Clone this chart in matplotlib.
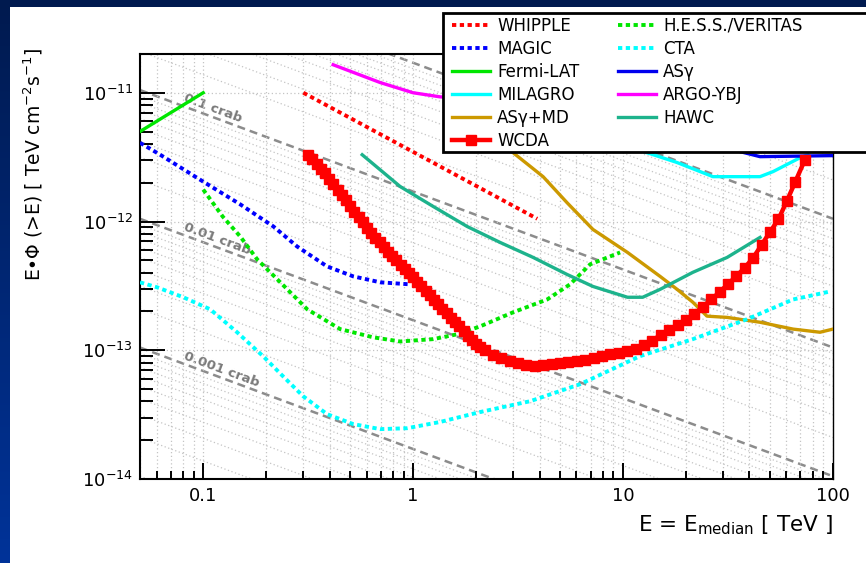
import numpy as np
import matplotlib
matplotlib.use('Agg')
import matplotlib.pyplot as plt
from matplotlib.patches import Rectangle
from matplotlib.colors import LinearSegmentedColormap
from matplotlib.ticker import NullFormatter, FixedLocator

plt.rcParams['font.family'] = ['DejaVu Sans']
plt.rcParams['mathtext.fontset'] = 'dejavusans'

# ---- data (E in TeV, E*F(>E) in TeV cm^-2 s^-1) ----
crab_E = [0.05, 100.0]
crab_1 = [1.05e-10, 1.05e-12]          # 1 crab reference at the two ends
crab_fracs = [1.0, 0.1, 0.01, 0.001]
crab_labels = {0.1: '0.1 crab', 0.01: '0.01 crab', 0.001: '0.001 crab'}

whipple_E = [0.30, 3.9]
whipple_F = [1.0e-11, 1.05e-12]

magic_E = [0.05, 0.0624, 0.1, 0.15, 0.216, 0.28, 0.389, 0.518, 0.697, 0.968]
magic_F = [4.09e-12, 3.30e-12, 2.04e-12, 1.36e-12, 9.15e-13, 6.40e-13, 4.48e-13,
           3.75e-13, 3.37e-13, 3.25e-13]

fermi_E = [0.05, 0.1]
fermi_F = [5.0e-12, 1.0e-11]

milagro_E = [10.0, 13.4, 18.1, 26.8, 44.9, 51.8, 69.7, 76.0]
milagro_F = [3.9e-12, 3.37e-12, 2.87e-12, 2.23e-12, 2.23e-12, 2.44e-12, 3.13e-12, 3.30e-12]

asgmd_E = [2.6, 2.99, 4.16, 5.41, 7.19, 10.5, 15.0, 18.1, 21.5, 25.1, 31.3, 44.9, 64.5, 86.7, 100.0]
asgmd_F = [4.0e-12, 3.43e-12, 2.23e-12, 1.40e-12, 8.67e-13, 5.75e-13, 3.75e-13, 2.97e-13,
           2.36e-13, 1.84e-13, 1.80e-13, 1.65e-13, 1.46e-13, 1.38e-13, 1.46e-13]

hess_E = [0.1, 0.124, 0.15, 0.181, 0.233, 0.313, 0.449, 0.645, 0.867, 1.245, 1.62, 2.08,
          2.99, 4.35, 5.59, 6.97, 9.68]
hess_F = [1.77e-12, 1.09e-12, 7.66e-13, 5.07e-13, 3.37e-13, 2.08e-13, 1.46e-13, 1.26e-13,
          1.17e-13, 1.22e-13, 1.33e-13, 1.53e-13, 1.97e-13, 2.48e-13, 3.25e-13, 4.65e-13, 5.75e-13]

cta_E = [0.05, 0.0604, 0.0804, 0.108, 0.145, 0.193, 0.24, 0.299, 0.389, 0.518, 0.697, 0.936,
         1.34, 2.08, 3.61, 6.24, 12.0, 21.5, 38.9, 64.5, 96.8]
cta_F = [3.37e-13, 3.08e-13, 2.58e-13, 2.08e-13, 1.38e-13, 8.98e-14, 6.28e-14, 4.40e-14,
         3.19e-14, 2.67e-14, 2.44e-14, 2.48e-14, 2.77e-14, 3.31e-14, 4.02e-14, 5.45e-14,
         8.98e-14, 1.22e-13, 1.74e-13, 2.48e-13, 2.86e-13]

asg_E = [30.0, 36.1, 44.9, 100.0]
asg_F = [4.0e-12, 3.49e-12, 3.19e-12, 3.25e-12]

argo_E = [0.416, 0.697, 1.0, 1.34, 1.6]
argo_F = [1.65e-11, 1.20e-11, 1.0e-11, 9.3e-12, 9.1e-12]

hawc_E = [0.572, 0.867, 1.245, 1.81, 2.60, 3.73, 5.41, 7.19, 10.5, 12.4, 15.0, 21.5, 31.3, 44.9]
hawc_F = [3.30e-12, 1.87e-12, 1.31e-12, 9.14e-13, 6.87e-13, 5.26e-13, 3.88e-13, 3.13e-13,
          2.58e-13, 2.58e-13, 2.97e-13, 4.03e-13, 5.26e-13, 7.52e-13]

wcda_E = [0.316, 0.331, 0.347, 0.363, 0.380, 0.398, 0.417, 0.437, 0.457, 0.479, 0.501, 0.525,
          0.550, 0.576, 0.603, 0.631, 0.661, 0.692, 0.724, 0.759, 0.794, 0.832, 0.871, 0.912,
          0.955, 1.000, 1.047, 1.096, 1.148, 1.202, 1.259, 1.318, 1.380, 1.445, 1.514, 1.585,
          1.660, 1.738, 1.820, 1.905, 1.995, 2.089, 2.188, 2.399, 2.630,
          2.884, 3.162, 3.467, 3.802, 4.169, 4.571, 5.012, 5.495, 6.026, 6.607, 7.244, 7.943,
          8.710, 9.550, 10.47, 11.48, 12.59, 13.80, 15.14, 16.60, 18.20, 19.95, 21.88, 23.99,
          26.30, 28.84, 31.62, 34.67, 38.02, 41.69, 45.71, 50.12, 54.95, 60.26, 66.07, 73.6]
wcda_F = [3.30e-12, 3.05e-12, 2.81e-12, 2.58e-12, 2.36e-12, 2.15e-12, 1.95e-12, 1.77e-12,
          1.61e-12, 1.46e-12, 1.32e-12, 1.19e-12, 1.08e-12, 9.84e-13, 8.97e-13, 8.19e-13,
          7.48e-13, 6.87e-13, 6.31e-13, 5.84e-13, 5.40e-13, 4.99e-13, 4.61e-13, 4.28e-13,
          3.97e-13, 3.68e-13, 3.41e-13, 3.15e-13, 2.91e-13, 2.68e-13, 2.47e-13, 2.28e-13,
          2.10e-13, 1.94e-13, 1.79e-13, 1.65e-13, 1.53e-13, 1.40e-13, 1.28e-13, 1.20e-13,
          1.12e-13, 1.06e-13, 9.98e-14, 9.25e-14, 8.73e-14,
          8.24e-14, 7.98e-14, 7.74e-14, 7.52e-14, 7.64e-14, 7.78e-14, 7.93e-14, 8.09e-14,
          8.26e-14, 8.42e-14, 8.64e-14, 8.95e-14, 9.27e-14, 9.59e-14, 9.90e-14, 1.03e-13,
          1.09e-13, 1.19e-13, 1.32e-13, 1.44e-13, 1.57e-13, 1.72e-13, 1.92e-13, 2.17e-13,
          2.48e-13, 2.83e-13, 3.27e-13, 3.77e-13, 4.38e-13, 5.24e-13, 6.59e-13, 8.30e-13,
          1.04e-12, 1.44e-12, 2.03e-12, 3.03e-12]

xtick_vals = [0.1, 1, 10, 100]
xtick_labels = ['0.1', '1', '10', '100']
ytick_vals = [1e-14, 1e-13, 1e-12, 1e-11]
ytick_labels = [r'$10^{-14}$', r'$10^{-13}$', r'$10^{-12}$', r'$10^{-11}$']

# ---- figure ----
fig = plt.figure(figsize=(8.66, 5.63), dpi=100, facecolor='white')

# slide background: blue strips at left and top
bg = fig.add_axes([0, 0, 10 / 866, 1], zorder=-5)
grad = np.linspace(0, 1, 256).reshape(-1, 1)
bg.imshow(grad, aspect='auto', origin='lower', extent=[0, 1, 0, 1],
          cmap=LinearSegmentedColormap.from_list('slide', ['#003399', '#001a4f']))
bg.axis('off')
fig.patches.append(Rectangle((0, 1 - 7 / 563), 1, 7 / 563, transform=fig.transFigure,
                             facecolor='#001a4f', edgecolor='none', zorder=-4))

ax = fig.add_axes([140 / 866, 1 - 479 / 563, 693 / 866, 425 / 563])
ax.set_xscale('log')
ax.set_yscale('log')
ax.set_xlim(0.05, 100)
ax.set_ylim(1e-14, 2e-11)

# grid
ax.grid(which='both', axis='x', ls=(0, (1, 2)), color='#c4c4c4', lw=0.9, zorder=0)
ax.grid(which='major', axis='y', ls=(0, (1, 2)), color='#c4c4c4', lw=0.9, zorder=0)

# crab reference lines
slope = np.log10(crab_1[1] / crab_1[0]) / np.log10(crab_E[1] / crab_E[0])
for n in range(-4, 2):
    for k in range(1, 10):
        f = k * 10.0 ** n
        if any(np.isclose(f, c) for c in crab_fracs):
            continue
        ax.plot(crab_E, [f * v for v in crab_1], ls=(0, (1, 2)), color='#c4c4c4', lw=0.9, zorder=0.5)
for f in crab_fracs:
    ax.plot(crab_E, [f * v for v in crab_1], ls=(0, (3.2, 2)), color='#8c8c8c', lw=1.8, zorder=1)

p0 = ax.transData.transform((crab_E[0], crab_1[0]))
p1 = ax.transData.transform((crab_E[1], crab_1[1]))
angle = np.degrees(np.arctan2(p1[1] - p0[1], p1[0] - p0[0]))
for f, lab in crab_labels.items():
    xl = 0.08
    yl = f * crab_1[0] * (xl / crab_E[0]) ** slope * 1.09
    ax.text(xl, yl, lab, rotation=angle, rotation_mode='anchor', ha='left', va='baseline',
            fontsize=9.5, fontweight='bold', color='#7a7a7a', zorder=1.5)

DOT = (0, (1.1, 0.9))
series = [
    (whipple_E, whipple_F, 'WHIPPLE', '#ff0000', DOT),
    (magic_E, magic_F, 'MAGIC', '#0000ff', DOT),
    (fermi_E, fermi_F, 'Fermi-LAT', '#00e600', '-'),
    (milagro_E, milagro_F, 'MILAGRO', '#00ffff', '-'),
    (asgmd_E, asgmd_F, 'AS\u03b3+MD', '#cc9900', '-'),
    (hess_E, hess_F, 'H.E.S.S./VERITAS', '#00e600', DOT),
    (cta_E, cta_F, 'CTA', '#00ffff', DOT),
    (asg_E, asg_F, 'AS\u03b3', '#0000ee', '-'),
    (argo_E, argo_F, 'ARGO-YBJ', '#ff00ff', '-'),
    (hawc_E, hawc_F, 'HAWC', '#1db38c', '-'),
]
handles = {}
for E, F, name, col, ls in series:
    lw = 2.8 if ls == DOT else 2.4
    h, = ax.plot(E, F, ls=ls, color=col, lw=lw, zorder=3, label=name)
    handles[name] = h
h, = ax.plot(wcda_E, wcda_F, '-', color='#ff0000', lw=3.2, marker='s', ms=7,
             mec='#ff0000', mfc='#ff0000', zorder=4, label='WCDA')
handles['WCDA'] = h

# axes styling
for s in ['left', 'bottom', 'top']:
    ax.spines[s].set_linewidth(1.5)
ax.spines['right'].set_linewidth(1.0)
ax.xaxis.set_major_locator(FixedLocator(xtick_vals))
ax.set_xticklabels(xtick_labels)
ax.xaxis.set_minor_locator(FixedLocator([k * 10.0 ** n for n in range(-2, 2) for k in range(2, 10)]))
ax.xaxis.set_minor_formatter(NullFormatter())
ax.yaxis.set_major_locator(FixedLocator(ytick_vals))
ax.set_yticklabels(ytick_labels)
ax.yaxis.set_minor_locator(FixedLocator([k * 10.0 ** n for n in range(-14, -10) for k in range(2, 10)]))
ax.yaxis.set_minor_formatter(NullFormatter())
ax.tick_params(axis='x', which='major', direction='in', length=11.5, width=1.4, labelsize=13, pad=6,
               top=False)
ax.tick_params(axis='x', which='minor', direction='in', length=5.8, width=1.4, top=False)
ax.tick_params(axis='y', which='major', direction='in', length=18, width=1.4, labelsize=13, pad=5,
               right=False)
ax.tick_params(axis='y', which='minor', direction='in', length=9.4, width=1.4, right=False)

fig.text(833 / 866, 1 - 525 / 563, r'E = E$_{\mathrm{median}}$ [ TeV ]', ha='right', va='center',
         fontsize=15.5)
fig.text(33 / 866, 1 - 48 / 563, 'E\u2022\u03a6 (>E) [ TeV cm$^{-2}$s$^{-1}$]', rotation=90,
         ha='center', va='top', fontsize=13.5)

# legend box (drawn over the plot, running off the right edge)
fig.patches.append(Rectangle((443 / 866, 1 - 152 / 563), (890 - 443) / 866, (152 - 13) / 563,
                             transform=fig.transFigure, facecolor='white', edgecolor='black',
                             lw=2, zorder=4))
order = ['WHIPPLE', 'MAGIC', 'Fermi-LAT', 'MILAGRO', 'AS\u03b3+MD', 'WCDA',
         'H.E.S.S./VERITAS', 'CTA', 'AS\u03b3', 'ARGO-YBJ', 'HAWC']
leg = fig.legend([handles[k] for k in order], order, ncol=2, loc='upper left',
                 bbox_to_anchor=(452 / 866, 1 - 17 / 563), frameon=False, borderpad=0,
                 borderaxespad=0, handlelength=2.3, handletextpad=0.42, columnspacing=2.3,
                 labelspacing=0.3, fontsize=12)
leg.set_zorder(6)

fig.savefig('out.png', dpi=100, facecolor='white')
